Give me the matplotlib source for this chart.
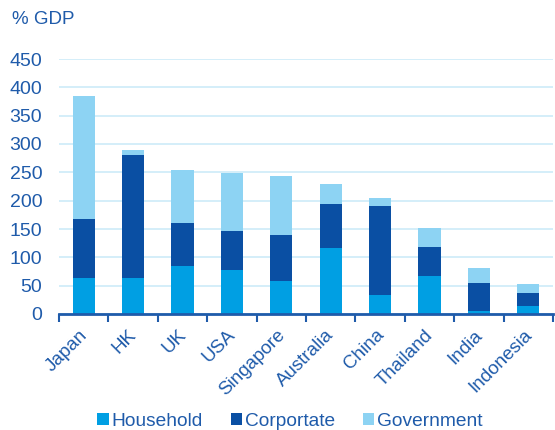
import matplotlib
matplotlib.use("Agg")
import matplotlib.pyplot as plt
import matplotlib.transforms as mtransforms
import numpy as np

plt.rcParams['font.family'] = ['Liberation Sans', 'DejaVu Sans']

countries = ["Japan", "HK", "UK", "USA", "Singapore", "Australia", "China", "Thailand", "India", "Indonesia"]
household = [63, 63, 85, 78, 58, 116, 34, 67, 6, 14]
corporate = [105, 218, 75, 69, 82, 78, 157, 51, 49, 23]
government = [217, 8, 94, 101, 103, 35, 14, 34, 27, 16]
yticks = [0, 50, 100, 150, 200, 250, 300, 350, 400, 450]

c_house = "#009FE3"
c_corp = "#0A4FA3"
c_gov = "#8DD3F3"
txt = "#1F5BAA"

W, H = 555, 430
fig = plt.figure(figsize=(W/100, H/100), dpi=100)
ax = fig.add_axes([59/W, (H-314)/H, (553-59)/W, (314-59)/H])

x = np.arange(len(countries))
h = np.array(household); c = np.array(corporate); g = np.array(government)
bw = 0.45
ax.bar(x, h, bw, color=c_house, label="Household", zorder=3)
ax.bar(x, c, bw, bottom=h, color=c_corp, label="Corportate", zorder=3)
ax.bar(x, g, bw, bottom=h+c, color=c_gov, label="Government", zorder=3)

ax.set_xlim(-0.5, len(countries)-0.5)
ax.set_ylim(0, 450)
ax.set_yticks(yticks)
ax.yaxis.grid(True, color="#CDEBF8", linewidth=1.2, zorder=0)
ax.set_axisbelow(True)
for s in ["top", "right", "left"]:
    ax.spines[s].set_visible(False)
ax.spines["bottom"].set_color("#1F5BAA")
ax.spines["bottom"].set_linewidth(2)
ax.spines["bottom"].set_zorder(4)

ax.tick_params(axis="y", length=0, labelsize=14, labelcolor=txt, pad=12)
ax.set_xticks(x)
ax.set_xticklabels(countries, rotation=45, ha="right", rotation_mode="anchor",
                   fontsize=13.5, color=txt)
ax.tick_params(axis="x", which="major", length=0, pad=9)
ax.set_xticks(np.arange(-0.5, len(countries), 1), minor=True)
ax.tick_params(axis="x", which="minor", length=6, width=1.5, color="#1F5BAA", direction="out")
offset = mtransforms.ScaledTranslation(-5/100, 0, fig.dpi_scale_trans)
for lab in ax.get_xticklabels():
    lab.set_transform(lab.get_transform() + offset)

fig.text(12/W, 1-20/H, "% GDP", fontsize=13.5, color=txt, va="center", ha="left")

leg = fig.legend(loc="center", bbox_to_anchor=(290/W, 1-421/H), ncol=3, frameon=False,
                 fontsize=13.8, handlelength=0.6, handleheight=0.6, handletextpad=0.15,
                 columnspacing=1.45, borderpad=0)
for t in leg.get_texts():
    t.set_color(txt)

fig.savefig("out.png", dpi=100)
